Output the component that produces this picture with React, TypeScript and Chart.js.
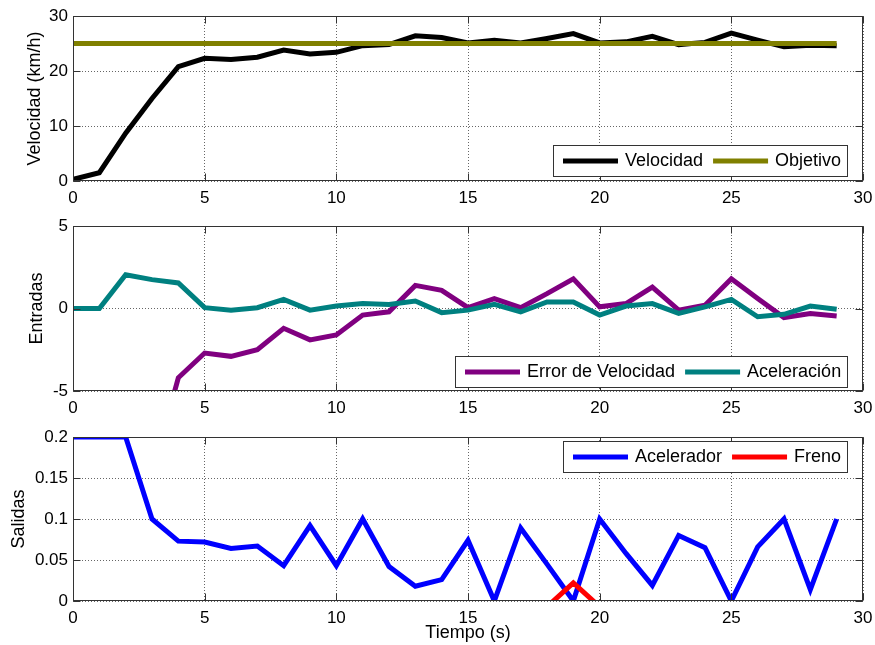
import React, { useEffect, useRef } from 'react';
import { Chart, registerables } from 'chart.js';

Chart.register(...registerables);

// ---------- data ----------
const tiempo = [0, 1, 2, 3, 4, 5, 6, 7, 8, 9, 10, 11, 12, 13, 14, 15, 16, 17, 18, 19, 20, 21, 22, 23, 24, 25, 26, 27, 28, 29];

const velocidad = [0.3, 1.5, 8.7, 15.0, 20.8, 22.3, 22.1, 22.5, 23.8, 23.1, 23.4, 24.6, 24.8, 26.4, 26.1, 25.1, 25.6, 25.1, 25.9, 26.8, 25.1, 25.3, 26.3, 24.8, 25.2, 26.9, 25.6, 24.4, 24.7, 24.6];
const objetivo = [25, 25, 25, 25, 25, 25, 25, 25, 25, 25, 25, 25, 25, 25, 25, 25, 25, 25, 25, 25, 25, 25, 25, 25, 25, 25, 25, 25, 25, 25];

const errorVelocidad = [-24.7, -23.5, -16.3, -10.0, -4.2, -2.7, -2.9, -2.5, -1.2, -1.9, -1.6, -0.4, -0.2, 1.4, 1.1, 0.05, 0.6, 0.05, 0.9, 1.8, 0.1, 0.3, 1.3, -0.1, 0.2, 1.8, 0.6, -0.55, -0.3, -0.45];
const aceleracion = [0, 0, 2.05, 1.75, 1.55, 0.05, -0.1, 0.05, 0.55, -0.1, 0.15, 0.3, 0.25, 0.45, -0.25, -0.1, 0.25, -0.2, 0.4, 0.4, -0.4, 0.15, 0.3, -0.3, 0.1, 0.55, -0.5, -0.35, 0.15, -0.05];

const acelerador = [0.2, 0.2, 0.2, 0.1, 0.073, 0.072, 0.064, 0.067, 0.043, 0.092, 0.043, 0.1, 0.042, 0.018, 0.026, 0.074, 0, 0.089, 0.045, 0, 0.1, 0.058, 0.019, 0.08, 0.065, 0, 0.066, 0.1, 0.014, 0.1];
const freno = [-0.05, -0.05, -0.05, -0.05, -0.05, -0.05, -0.05, -0.05, -0.05, -0.05, -0.05, -0.05, -0.05, -0.05, -0.05, -0.05, -0.05, -0.05, -0.007, 0.022, -0.007, -0.05, -0.05, -0.05, -0.05, -0.05, -0.05, -0.05, -0.05, -0.05];

const xTickValues = [0, 5, 10, 15, 20, 25, 30];
const yTicksVelocidad = [0, 10, 20, 30];
const yTicksEntradas = [-5, 0, 5];
const yTicksSalidas = [0, 0.05, 0.1, 0.15, 0.2];

// ---------- styling ----------
const FONT = "'Liberation Sans', Arial, Helvetica, sans-serif";
const AXIS_COLOR = '#333333';
const GRID_COLOR = 'rgba(0,0,0,0.6)';
const LINE_W = 5;

const toPoints = (ys: number[]) => tiempo.map((t, i) => ({ x: t, y: ys[i] }));

const axesPlugin = {
  id: 'mlAxes',
  afterDatasetsDraw(chart: any) {
    const { ctx, chartArea: ca } = chart;
    const xs = chart.scales.x;
    const ys = chart.scales.y;
    const L = Math.round(ca.left) + 0.5;
    const R = Math.round(ca.right) - 0.5;
    const T = Math.round(ca.top) + 0.5;
    const B = Math.round(ca.bottom) - 0.5;
    const tl = 7;
    ctx.save();
    ctx.strokeStyle = AXIS_COLOR;
    ctx.lineWidth = 1;
    ctx.beginPath();
    xs.ticks.forEach((t: any) => {
      const px = Math.round(xs.getPixelForValue(t.value)) + 0.5;
      ctx.moveTo(px, B);
      ctx.lineTo(px, B - tl);
      ctx.moveTo(px, T);
      ctx.lineTo(px, T + tl);
    });
    ys.ticks.forEach((t: any) => {
      const py = Math.round(ys.getPixelForValue(t.value)) + 0.5;
      ctx.moveTo(L, py);
      ctx.lineTo(L + tl, py);
      ctx.moveTo(R, py);
      ctx.lineTo(R - tl, py);
    });
    ctx.stroke();
    ctx.strokeRect(L, T, R - L, B - T);
    ctx.restore();
  },
};

const legendPlugin = {
  id: 'mlLegend',
  afterDraw(chart: any, _args: any, opts: any) {
    const { ctx, chartArea: ca } = chart;
    ctx.save();
    ctx.font = `18px ${FONT}`;
    const padL = 10, sample = 55, gapT = 7, gapE = 10, padR = 6, h = 31;
    const items = chart.data.datasets.map((d: any) => ({
      label: d.label,
      color: d.borderColor,
      w: ctx.measureText(d.label).width,
    }));
    let total = padL + padR;
    items.forEach((it: any, i: number) => {
      total += sample + gapT + it.w + (i > 0 ? gapE : 0);
    });
    total = Math.round(total);
    const right = Math.round(ca.right) - 16;
    const left = right - total;
    const top = opts.anchor === 'bottom' ? Math.round(ca.bottom) - opts.gap - h : Math.round(ca.top) + opts.gap;
    ctx.fillStyle = '#ffffff';
    ctx.fillRect(left, top, total, h);
    ctx.strokeStyle = AXIS_COLOR;
    ctx.lineWidth = 1;
    ctx.strokeRect(left + 0.5, top + 0.5, total, h);
    let x = left + padL;
    const cy = top + h / 2 + 0.5;
    items.forEach((it: any, i: number) => {
      if (i > 0) x += gapE;
      ctx.strokeStyle = it.color;
      ctx.lineWidth = LINE_W;
      ctx.beginPath();
      ctx.moveTo(x, cy);
      ctx.lineTo(x + sample, cy);
      ctx.stroke();
      x += sample + gapT;
      ctx.fillStyle = '#000000';
      ctx.textBaseline = 'middle';
      ctx.textAlign = 'left';
      ctx.fillText(it.label, x, cy);
      x += it.w;
    });
    ctx.restore();
  },
};

interface PanelCfg {
  datasets: any[];
  yMin: number;
  yMax: number;
  yTicks: number[];
  yTitle: string;
  yTitlePad: number;
  xHeight: number;
  topPad: number;
  xTitle?: string;
  legendAnchor: 'top' | 'bottom';
  legendGap: number;
}

const fmt = (v: number) => String(parseFloat(Number(v).toFixed(4)));

function buildConfig(cfg: PanelCfg): any {
  return {
    type: 'line',
    data: { datasets: cfg.datasets },
    plugins: [axesPlugin, legendPlugin],
    options: {
      responsive: false,
      animation: false,
      events: [],
      layout: { padding: { left: 0, right: 12, top: cfg.topPad, bottom: 0 } },
      elements: { point: { radius: 0 }, line: { tension: 0 } },
      plugins: {
        legend: { display: false },
        tooltip: { enabled: false },
        mlLegend: { anchor: cfg.legendAnchor, gap: cfg.legendGap },
      },
      scales: {
        x: {
          type: 'linear',
          min: 0,
          max: 30,
          afterFit: (s: any) => { s.height = cfg.xHeight; s.paddingLeft = 0; s.paddingRight = 0; },
          afterBuildTicks: (s: any) => { s.ticks = xTickValues.map((v) => ({ value: v })); },
          ticks: { font: { family: FONT, size: 17 }, color: '#000', padding: 7, maxRotation: 0, autoSkip: false, callback: (v: any) => fmt(v) },
          grid: { color: GRID_COLOR, lineWidth: 1, drawTicks: false },
          border: { display: false, dash: [1, 2] },
          title: cfg.xTitle
            ? { display: true, text: cfg.xTitle, color: '#000', font: { family: FONT, size: 18 }, padding: { top: 0, bottom: 1 } }
            : { display: false },
        },
        y: {
          type: 'linear',
          min: cfg.yMin,
          max: cfg.yMax,
          afterFit: (s: any) => { s.width = 73; s.paddingTop = 0; s.paddingBottom = 0; },
          afterBuildTicks: (s: any) => { s.ticks = cfg.yTicks.map((v) => ({ value: v })); },
          ticks: { font: { family: FONT, size: 17 }, color: '#000', padding: 5, autoSkip: false, callback: (v: any) => fmt(v) },
          grid: { color: GRID_COLOR, lineWidth: 1, drawTicks: false },
          border: { display: false, dash: [1, 2] },
          title: { display: true, text: cfg.yTitle, color: '#000', font: { family: FONT, size: 18 }, padding: { top: cfg.yTitlePad, bottom: 0 } },
        },
      },
    },
  };
}

const ds = (label: string, ys: number[], color: string, order: number) => ({
  label,
  data: toPoints(ys),
  borderColor: color,
  backgroundColor: color,
  borderWidth: LINE_W,
  fill: false,
  pointRadius: 0,
  order,
});

export default function App() {
  const r1 = useRef<HTMLCanvasElement>(null);
  const r2 = useRef<HTMLCanvasElement>(null);
  const r3 = useRef<HTMLCanvasElement>(null);

  useEffect(() => {
    const c1 = new Chart(r1.current as HTMLCanvasElement, buildConfig({
      datasets: [ds('Velocidad', velocidad, '#000000', 2), ds('Objetivo', objetivo, '#808000', 1)],
      yMin: 0, yMax: 30, yTicks: yTicksVelocidad,
      yTitle: 'Velocidad (km/h)', yTitlePad: 24,
      xHeight: 29, topPad: 16,
      legendAnchor: 'bottom', legendGap: 5,
    }));
    const c2 = new Chart(r2.current as HTMLCanvasElement, buildConfig({
      datasets: [ds('Error de Velocidad', errorVelocidad, '#800080', 2), ds('Aceleración', aceleracion, '#008080', 1)],
      yMin: -5, yMax: 5, yTicks: yTicksEntradas,
      yTitle: 'Entradas', yTitlePad: 26,
      xHeight: 29, topPad: 16,
      legendAnchor: 'bottom', legendGap: 4,
    }));
    const c3 = new Chart(r3.current as HTMLCanvasElement, buildConfig({
      datasets: [ds('Acelerador', acelerador, '#0000ff', 2), ds('Freno', freno, '#ff0000', 1)],
      yMin: 0, yMax: 0.2, yTicks: yTicksSalidas,
      yTitle: 'Salidas', yTitlePad: 8,
      xHeight: 44, topPad: 17,
      xTitle: 'Tiempo (s)',
      legendAnchor: 'top', legendGap: 4,
    }));
    return () => { c1.destroy(); c2.destroy(); c3.destroy(); };
  }, []);

  return (
    <div style={{ position: 'absolute', left: 0, top: 0, width: 875, height: 645, background: '#ffffff' }}>
      <canvas ref={r1} width={875} height={210} style={{ position: 'absolute', left: 0, top: 0 }} />
      <canvas ref={r2} width={875} height={210} style={{ position: 'absolute', left: 0, top: 210 }} />
      <canvas ref={r3} width={875} height={225} style={{ position: 'absolute', left: 0, top: 420 }} />
    </div>
  );
}
